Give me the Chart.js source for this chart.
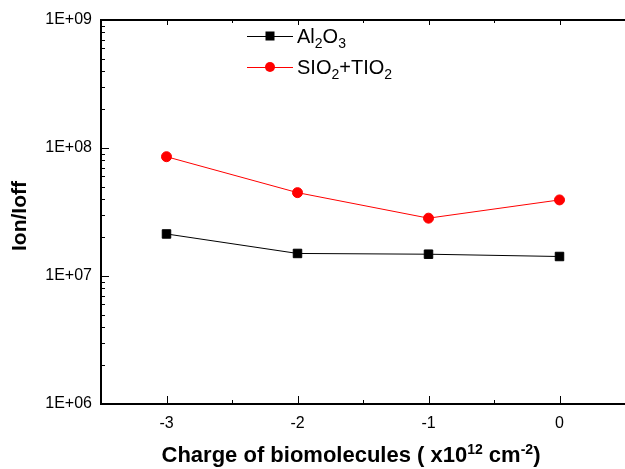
<!DOCTYPE html>
<html>
<head>
<meta charset="utf-8">
<script src="https://cdn.jsdelivr.net/npm/chart.js@4.4.1/dist/chart.umd.min.js"></script>
<style>
  body { margin: 0; background: #fff; }
  #wrap { position: relative; width: 625px; height: 469px; overflow: hidden; font-family: "Liberation Sans", Arial, sans-serif; color: #000; }
  #chart { position: absolute; left: 0; top: 0; }
  .ytitle { position: absolute; left: 19px; top: 216px; transform: translate(-50%, -50%) rotate(-90deg); font-weight: bold; font-size: 21px; white-space: nowrap; }
  .xtitle { position: absolute; left: 351px; top: 455px; transform: translate(-50%, -50%); font-weight: bold; font-size: 22px; white-space: nowrap; line-height: 1; }
  .xtitle sup { font-size: 14px; vertical-align: 8px; line-height: 0; }
  .leg-row { position: absolute; left: 247px; height: 0; }
  .leg-line { position: absolute; left: 0; top: 0; width: 46px; height: 1px; }
  .leg-mark { position: absolute; left: 23px; transform: translate(-50%, -50%); }
  .leg-text { position: absolute; left: 50px; top: 0; transform: translateY(-50%); font-size: 20px; white-space: nowrap; line-height: 1; }
  .leg-text sub { font-size: 14px; vertical-align: -5px; line-height: 0; }
</style>
</head>
<body>
<div id="wrap">
  <canvas id="chart" width="625" height="469"></canvas>
  <div class="ytitle">Ion/Ioff</div>
  <div class="xtitle">Charge of biomolecules ( x10<sup>12</sup> cm<sup>-2</sup>)</div>
  <div id="legend"></div>
</div>
<script>
var charges = [-3, -2, -1, 0];
var al2o3 = [2.13e7, 1.50e7, 1.48e7, 1.42e7];
var sio2tio2 = [8.55e7, 4.48e7, 2.83e7, 3.93e7];

var seriesNames = ['Al2O3', 'SIO2+TIO2'];
var seriesLabelsHtml = ['Al<sub>2</sub>O<sub>3</sub>', 'SIO<sub>2</sub>+TIO<sub>2</sub>'];
var seriesColors = ['#000000', '#ff0000'];
var seriesMarkers = ['rect', 'circle'];

var xMin = -3.5, xMax = 0.5;
var xTickLabels = ['-3', '-2', '-1', '0'];
var yDecades = [1e6, 1e7, 1e8, 1e9];
var yTickLabels = ['1E+06', '1E+07', '1E+08', '1E+09'];

function pts(ys) {
  return charges.map(function(c, i) { return { x: c, y: ys[i] }; });
}

// inward ticks + frame, Origin style
var axesPlugin = {
  id: 'axesFrame',
  afterDatasetsDraw: function(chart) {
    var ctx = chart.ctx, a = chart.chartArea;
    var xs = chart.scales.x, ys = chart.scales.y;
    ctx.save();
    ctx.strokeStyle = '#000';
    ctx.lineWidth = 1;
    ys.ticks.forEach(function(t) {
      var y = Math.round(ys.getPixelForValue(t.value)) + 0.5;
      var len = t.major ? 8 : 4;
      ctx.beginPath(); ctx.moveTo(a.left, y); ctx.lineTo(a.left + len, y); ctx.stroke();
    });
    xs.ticks.forEach(function(t) {
      var x = Math.round(xs.getPixelForValue(t.value)) + 0.5;
      var len = t.major ? 8 : 4;
      ctx.beginPath(); ctx.moveTo(x, a.bottom); ctx.lineTo(x, a.bottom - len); ctx.stroke();
      ctx.beginPath(); ctx.moveTo(x, a.top); ctx.lineTo(x, a.top + (t.major ? 5 : 3)); ctx.stroke();
    });
    ctx.lineWidth = 2;
    ctx.beginPath();
    ctx.moveTo(a.right, a.top); ctx.lineTo(a.left, a.top);
    ctx.lineTo(a.left, a.bottom); ctx.lineTo(a.right, a.bottom);
    ctx.stroke();
    ctx.restore();
  }
};

var chart = new Chart(document.getElementById('chart'), {
  type: 'line',
  data: {
    datasets: [
      { label: seriesNames[0], data: pts(al2o3), borderColor: seriesColors[0], backgroundColor: seriesColors[0],
        borderWidth: 1, pointStyle: seriesMarkers[0], pointRadius: 6, pointBorderWidth: 1, fill: false, tension: 0 },
      { label: seriesNames[1], data: pts(sio2tio2), borderColor: seriesColors[1], backgroundColor: seriesColors[1],
        borderWidth: 1, pointStyle: seriesMarkers[1], pointRadius: 5, pointBorderWidth: 1, fill: false, tension: 0 }
    ]
  },
  options: {
    responsive: false,
    animation: false,
    devicePixelRatio: 1,
    layout: { autoPadding: false, padding: { top: 20, right: 0, left: 0, bottom: 0 } },
    plugins: { legend: { display: false }, tooltip: { enabled: false } },
    scales: {
      x: {
        type: 'linear', min: xMin, max: xMax,
        grid: { display: false, drawTicks: false },
        border: { display: false },
        afterBuildTicks: function(s) {
          var t = [];
          for (var v = xMin; v <= xMax + 1e-9; v += 0.5) t.push({ value: v, major: Number.isInteger(v) });
          s.ticks = t;
        },
        afterFit: function(s) { s.height = 65; s.paddingLeft = 0; s.paddingRight = 0; },
        ticks: {
          autoSkip: false, maxRotation: 0, padding: 10, color: '#000',
          font: { family: '"Liberation Sans", Arial, sans-serif', size: 16 },
          callback: function(v) {
            var i = charges.indexOf(v);
            return i >= 0 ? xTickLabels[i] : '';
          }
        }
      },
      y: {
        type: 'logarithmic', min: yDecades[0], max: yDecades[yDecades.length - 1],
        grid: { display: false, drawTicks: false },
        border: { display: false },
        afterBuildTicks: function(s) {
          var t = [];
          yDecades.forEach(function(d, i) {
            t.push({ value: d, major: true });
            if (i < yDecades.length - 1) {
              for (var m = 2; m <= 9; m++) t.push({ value: d * m, major: false });
            }
          });
          s.ticks = t;
        },
        afterFit: function(s) { s.width = 101; s.paddingTop = 0; s.paddingBottom = 0; },
        ticks: {
          autoSkip: false, padding: 9, color: '#000',
          font: { family: '"Liberation Sans", Arial, sans-serif', size: 16 },
          callback: function(v) {
            var i = yDecades.indexOf(v);
            return i >= 0 ? yTickLabels[i] : '';
          }
        }
      }
    }
  },
  plugins: [axesPlugin]
});

// html legend built from the datasets
var legendEl = document.getElementById('legend');
var rowTops = [36, 67];
chart.data.datasets.forEach(function(ds, i) {
  var row = document.createElement('div');
  row.className = 'leg-row';
  row.style.top = rowTops[i] + 'px';
  var mark = ds.pointStyle === 'circle'
    ? 'width:10px;height:10px;border-radius:50%;top:0;'
    : 'width:9px;height:9px;top:0;';
  row.innerHTML =
    '<div class="leg-line" style="background:' + ds.borderColor + '"></div>' +
    '<div class="leg-mark" style="' + mark + 'background:' + ds.backgroundColor + '"></div>' +
    '<div class="leg-text">' + seriesLabelsHtml[i] + '</div>';
  legendEl.appendChild(row);
});
</script>
</body>
</html>
